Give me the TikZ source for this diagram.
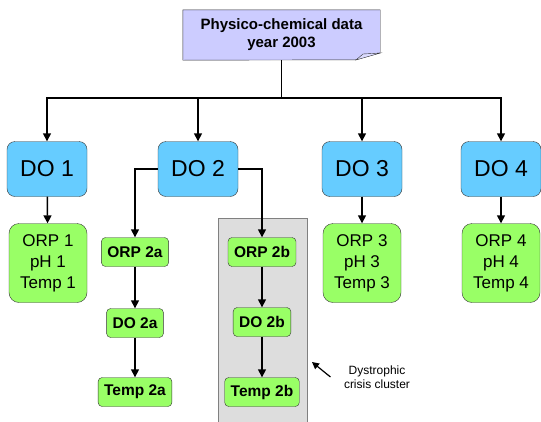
\documentclass[tikz,border=0pt]{standalone}
\usepackage{fontspec}
\setmainfont{Liberation Sans}
\usetikzlibrary{arrows.meta,positioning}
\definecolor{doblue}{RGB}{102,204,255}
\definecolor{ngreen}{RGB}{153,255,102}
\definecolor{notelav}{RGB}{204,204,255}
\definecolor{clustergray}{RGB}{221,221,221}
\tikzset{
  dobox/.style={draw=black!80,fill=doblue,rounded corners=8pt,minimum width=80pt,minimum height=55pt,inner sep=0pt,font=\fontsize{23}{28}\selectfont},
  setbox/.style={draw=black!80,fill=ngreen,rounded corners=10pt,minimum width=78pt,minimum height=79pt,inner sep=0pt,align=center,font=\fontsize{17}{21}\selectfont},
  smallbox/.style={draw=black!80,fill=ngreen,rounded corners=4pt,minimum height=29pt,inner xsep=6pt,inner ysep=0pt,font=\fontsize{15.5}{18}\selectfont\bfseries},
  link/.style={line width=1.5pt,-{Triangle[length=8pt,width=8pt]}}
}
\begin{document}
\begin{tikzpicture}[x=1pt,y=-1pt]
    \useasboundingbox (0,0) rectangle (541,421);
    % cluster background
    \draw[draw=black!50,fill=clustergray] (218,218) rectangle (307,430);
    % title note
    \node[minimum width=197pt,minimum height=50pt,inner sep=0pt,align=center,font=\fontsize{15}{18}\selectfont\bfseries] (title) at (281.5,35) {Physico-chemical data\\year 2003};
    \draw[draw=black!80,fill=notelav] (title.north west) -- (title.north east) -- ++(0,43) -- ++(-25,7) -- (title.south west) -- cycle;
    \draw[draw=black!80,fill=notelav!70!white] (356,60) -- (363,54) -- (380.5,53) -- cycle;
    \node[align=center,font=\fontsize{15}{18}\selectfont\bfseries] at (title) {Physico-chemical data\\year 2003};
    % top level
    \node[dobox] (do1) at (47,169) {DO 1};
    \node[dobox] (do2) at (198,169) {DO 2};
    \node[dobox] (do3) at (362,169) {DO 3};
    \node[dobox] (do4) at (501,169) {DO 4};
    \node[setbox] (orp1) at (48,263) {ORP 1\\pH 1\\Temp 1};
    \node[setbox] (orp3) at (362,263) {ORP 3\\pH 3\\Temp 3};
    \node[setbox] (orp4) at (501,263) {ORP 4\\pH 4\\Temp 4};
    % branches of DO 2
    \node[smallbox] (orp2a) at (135,252) {ORP 2a};
    \node[smallbox] (do2a) at (135,323) {DO 2a};
    \node[smallbox] (temp2a) at (135,392) {Temp 2a};
    \node[smallbox] (orp2b) at (262,252) {ORP 2b};
    \node[smallbox] (do2b) at (262,322) {DO 2b};
    \node[smallbox] (temp2b) at (262,392) {Temp 2b};
    \node[align=center,font=\fontsize{12}{14}\selectfont] (note) at (377,377) {Dystrophic\\crisis cluster};
    \coordinate (pointer) at (312,362);
    % connectors
    \foreach \n in {do1,do2,do3,do4}
      \draw[link] (title.south) -- ++(0,38) -| (\n.north);
    \draw[link] (do1) -- (orp1);
    \draw[link] (do3) -- (orp3);
    \draw[link] (do4) -- (orp4);
    \draw[link] (do2.west) -| (orp2a.north);
    \draw[link] (do2.east) -| (orp2b.north);
    \draw[link] (orp2a) -- (do2a);
    \draw[link] (do2a) -- (temp2a);
    \draw[link] (orp2b) -- (do2b);
    \draw[link] (do2b) -- (temp2b);
    \draw[line width=1.2pt,-{Triangle[length=7pt,width=7pt]}] (note.west) ++(-10,0) -- (pointer);
\end{tikzpicture}
\end{document}
